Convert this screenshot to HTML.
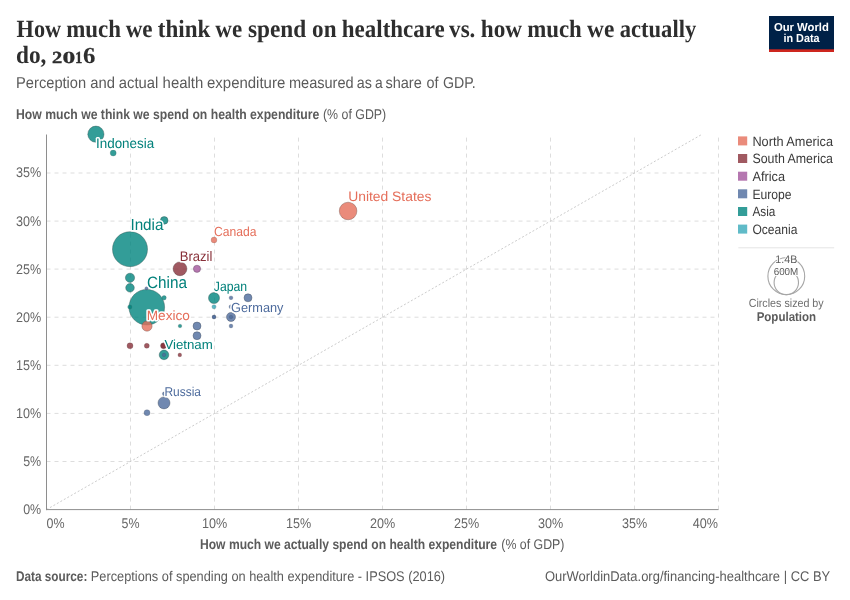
<!DOCTYPE html>
<html lang="en"><head><meta charset="utf-8"><title>How much we think we spend on healthcare vs. how much we actually do, 2016</title>
<style>html,body{margin:0;padding:0;background:#fff;}body{width:850px;height:600px;overflow:hidden;}svg{display:block;font-family:"Liberation Sans", "DejaVu Sans", sans-serif;text-rendering:geometricPrecision;}</style>
</head><body>
<svg width="850" height="600" viewBox="0 0 850 600">
<rect x="0" y="0" width="850" height="600" fill="#ffffff"/>
<g font-family='"Liberation Serif", "DejaVu Serif", serif' font-weight="bold" font-size="24.8" fill="#2e2e2e">
<text y="36.8"><tspan x="16.6" textLength="44.5" lengthAdjust="spacingAndGlyphs">How</tspan> <tspan x="66.2" textLength="54.8" lengthAdjust="spacingAndGlyphs">much</tspan> <tspan x="125.7" textLength="26.9" lengthAdjust="spacingAndGlyphs">we</tspan> <tspan x="157.8" textLength="52.6" lengthAdjust="spacingAndGlyphs">think</tspan> <tspan x="215.3" textLength="26.8" lengthAdjust="spacingAndGlyphs">we</tspan> <tspan x="248.0" textLength="58.3" lengthAdjust="spacingAndGlyphs">spend</tspan> <tspan x="312.1" textLength="24.4" lengthAdjust="spacingAndGlyphs">on</tspan> <tspan x="341.8" textLength="103.0" lengthAdjust="spacingAndGlyphs">healthcare</tspan> <tspan x="449.1" textLength="26.3" lengthAdjust="spacingAndGlyphs">vs.</tspan> <tspan x="480.8" textLength="41.3" lengthAdjust="spacingAndGlyphs">how</tspan> <tspan x="527.2" textLength="54.6" lengthAdjust="spacingAndGlyphs">much</tspan> <tspan x="587.1" textLength="27.2" lengthAdjust="spacingAndGlyphs">we</tspan> <tspan x="619.8" textLength="76.4" lengthAdjust="spacingAndGlyphs">actually</tspan></text>
<text y="62.5"><tspan x="16.0" textLength="30.4" lengthAdjust="spacingAndGlyphs">do,</tspan> <tspan x="51.9" font-size="16.9" textLength="10.2" lengthAdjust="spacingAndGlyphs" stroke="#2e2e2e" stroke-width="0.4">2</tspan><tspan x="62.4" font-size="16.9" textLength="12.8" lengthAdjust="spacingAndGlyphs" stroke="#2e2e2e" stroke-width="0.25">0</tspan><tspan x="75.3" font-size="16.9" textLength="7.0" lengthAdjust="spacingAndGlyphs" stroke="#2e2e2e" stroke-width="0.4">1</tspan><tspan x="82.9" font-size="22.8" textLength="12.4" lengthAdjust="spacingAndGlyphs" stroke="#2e2e2e" stroke-width="0.1">6</tspan></text>
</g>
<text y="87.5" font-size="15.76" fill="#5b5b5b"><tspan x="16.1" textLength="70.1" lengthAdjust="spacingAndGlyphs">Perception</tspan> <tspan x="90.3" textLength="24.7" lengthAdjust="spacingAndGlyphs">and</tspan> <tspan x="118.8" textLength="39.4" lengthAdjust="spacingAndGlyphs">actual</tspan> <tspan x="162.6" textLength="40.7" lengthAdjust="spacingAndGlyphs">health</tspan> <tspan x="207.0" textLength="78.2" lengthAdjust="spacingAndGlyphs">expenditure</tspan> <tspan x="288.9" textLength="64.8" lengthAdjust="spacingAndGlyphs">measured</tspan> <tspan x="356.7" textLength="15.1" lengthAdjust="spacingAndGlyphs">as</tspan> <tspan x="374.9" textLength="7.7" lengthAdjust="spacingAndGlyphs">a</tspan> <tspan x="385.4" textLength="36.4" lengthAdjust="spacingAndGlyphs">share</tspan> <tspan x="426.6" textLength="12.0" lengthAdjust="spacingAndGlyphs">of</tspan> <tspan x="443.0" textLength="32.8" lengthAdjust="spacingAndGlyphs">GDP.</tspan></text>
<g>
<rect x="769" y="16" width="65" height="36" fill="#002147"/>
<rect x="769" y="49.3" width="65" height="2.7" fill="#ce261e"/>
<text x="801.4" y="30.6" font-size="11.54" fill="#ffffff" font-weight="bold" text-anchor="middle" textLength="55.0" lengthAdjust="spacingAndGlyphs">Our World</text>
<text x="801.5" y="42.4" font-size="11.54" fill="#ffffff" font-weight="bold" text-anchor="middle" textLength="36.2" lengthAdjust="spacingAndGlyphs">in Data</text>
</g>
<text x="16.0" y="118.8" font-size="14.04" fill="#5b5b5b" font-weight="bold" textLength="303.3" lengthAdjust="spacingAndGlyphs">How much we think we spend on health expenditure</text>
<text x="323.0" y="118.8" font-size="14.04" fill="#5b5b5b" textLength="63.2" lengthAdjust="spacingAndGlyphs">(% of GDP)</text>
<g stroke="#dddddd" stroke-width="1" stroke-dasharray="4,4" fill="none">
<line x1="46.5" y1="461.5" x2="718.5" y2="461.5"/>
<line x1="46.5" y1="413.4" x2="718.5" y2="413.4"/>
<line x1="46.5" y1="365.3" x2="718.5" y2="365.3"/>
<line x1="46.5" y1="317.2" x2="718.5" y2="317.2"/>
<line x1="46.5" y1="269.1" x2="718.5" y2="269.1"/>
<line x1="46.5" y1="221.1" x2="718.5" y2="221.1"/>
<line x1="46.5" y1="173.0" x2="718.5" y2="173.0"/>
<line x1="130.5" y1="509.6" x2="130.5" y2="134.5"/>
<line x1="214.5" y1="509.6" x2="214.5" y2="134.5"/>
<line x1="298.5" y1="509.6" x2="298.5" y2="134.5"/>
<line x1="382.5" y1="509.6" x2="382.5" y2="134.5"/>
<line x1="466.5" y1="509.6" x2="466.5" y2="134.5"/>
<line x1="550.5" y1="509.6" x2="550.5" y2="134.5"/>
<line x1="634.5" y1="509.6" x2="634.5" y2="134.5"/>
<line x1="718.5" y1="509.6" x2="718.5" y2="134.5"/>
</g>
<line x1="46.5" y1="509.6" x2="701.7" y2="134.5" stroke="#cccccc" stroke-width="1" stroke-dasharray="2,2"/>
<line x1="46.5" y1="134.5" x2="46.5" y2="510.1" stroke="#8e8e8e" stroke-width="1"/>
<line x1="46.0" y1="509.6" x2="718.5" y2="509.6" stroke="#8e8e8e" stroke-width="1"/>
<g font-size="14.04" fill="#666666">
<text x="41.2" y="514.0" text-anchor="end" textLength="18.0" lengthAdjust="spacingAndGlyphs">0%</text>
<text x="41.2" y="465.9" text-anchor="end" textLength="18.0" lengthAdjust="spacingAndGlyphs">5%</text>
<text x="41.2" y="417.8" text-anchor="end" textLength="25.2" lengthAdjust="spacingAndGlyphs">10%</text>
<text x="41.2" y="369.7" text-anchor="end" textLength="25.2" lengthAdjust="spacingAndGlyphs">15%</text>
<text x="41.2" y="321.6" text-anchor="end" textLength="25.2" lengthAdjust="spacingAndGlyphs">20%</text>
<text x="41.2" y="273.5" text-anchor="end" textLength="25.2" lengthAdjust="spacingAndGlyphs">25%</text>
<text x="41.2" y="225.5" text-anchor="end" textLength="25.2" lengthAdjust="spacingAndGlyphs">30%</text>
<text x="41.2" y="177.4" text-anchor="end" textLength="25.2" lengthAdjust="spacingAndGlyphs">35%</text>
<text x="46.5" y="527.9" textLength="18.0" lengthAdjust="spacingAndGlyphs">0%</text>
<text x="130.5" y="527.9" text-anchor="middle" textLength="18.0" lengthAdjust="spacingAndGlyphs">5%</text>
<text x="214.5" y="527.9" text-anchor="middle" textLength="25.2" lengthAdjust="spacingAndGlyphs">10%</text>
<text x="298.5" y="527.9" text-anchor="middle" textLength="25.2" lengthAdjust="spacingAndGlyphs">15%</text>
<text x="382.5" y="527.9" text-anchor="middle" textLength="25.2" lengthAdjust="spacingAndGlyphs">20%</text>
<text x="466.5" y="527.9" text-anchor="middle" textLength="25.2" lengthAdjust="spacingAndGlyphs">25%</text>
<text x="550.5" y="527.9" text-anchor="middle" textLength="25.2" lengthAdjust="spacingAndGlyphs">30%</text>
<text x="634.5" y="527.9" text-anchor="middle" textLength="25.2" lengthAdjust="spacingAndGlyphs">35%</text>
<text x="718.0" y="527.9" text-anchor="end" textLength="25.2" lengthAdjust="spacingAndGlyphs">40%</text>
</g>
<text x="200.0" y="548.8" font-size="14.04" fill="#5b5b5b" font-weight="bold" textLength="297" lengthAdjust="spacingAndGlyphs">How much we actually spend on health expenditure</text>
<text x="501.3" y="548.8" font-size="14.04" fill="#5b5b5b" textLength="63.1" lengthAdjust="spacingAndGlyphs">(% of GDP)</text>
<g stroke-width="0.5" fill-opacity="0.8" stroke-opacity="0.8">
<circle cx="146.8" cy="307.2" r="17.80" fill="#00847E" stroke="#2c504e"/>
<circle cx="130.0" cy="249.2" r="17.50" fill="#00847E" stroke="#2c504e"/>
<circle cx="348.1" cy="211.0" r="8.80" fill="#E56E5A" stroke="#6f4a44"/>
<circle cx="95.9" cy="134.2" r="8.10" fill="#00847E" stroke="#2c504e"/>
<circle cx="180.0" cy="268.8" r="6.90" fill="#883039" stroke="#4c3033"/>
<circle cx="164.0" cy="402.9" r="6.00" fill="#4C6A9C" stroke="#414a5b"/>
<circle cx="214.0" cy="298.0" r="5.50" fill="#00847E" stroke="#2c504e"/>
<circle cx="147.0" cy="326.1" r="5.10" fill="#E56E5A" stroke="#6f4a44"/>
<circle cx="130.0" cy="277.8" r="4.60" fill="#00847E" stroke="#2c504e"/>
<circle cx="164.0" cy="354.9" r="4.80" fill="#00847E" stroke="#2c504e"/>
<circle cx="130.0" cy="287.8" r="4.30" fill="#00847E" stroke="#2c504e"/>
<circle cx="231.0" cy="317.0" r="4.50" fill="#4C6A9C" stroke="#414a5b"/>
<circle cx="248.0" cy="297.8" r="4.00" fill="#4C6A9C" stroke="#414a5b"/>
<circle cx="197.0" cy="326.0" r="4.00" fill="#4C6A9C" stroke="#414a5b"/>
<circle cx="197.0" cy="335.7" r="4.00" fill="#4C6A9C" stroke="#414a5b"/>
<circle cx="164.2" cy="220.4" r="3.80" fill="#00847E" stroke="#2c504e"/>
<circle cx="197.0" cy="268.8" r="3.60" fill="#A2559C" stroke="#5c4059"/>
<circle cx="214.0" cy="240.0" r="2.90" fill="#E56E5A" stroke="#6f4a44" stroke-opacity="0.45"/>
<circle cx="130.0" cy="345.8" r="3.00" fill="#883039" stroke="#4c3033" stroke-opacity="0.45"/>
<circle cx="163.5" cy="345.8" r="3.00" fill="#883039" stroke="#4c3033" stroke-opacity="0.45"/>
<circle cx="163.5" cy="345.8" r="2.40" fill="#883039" stroke="#4c3033" stroke-opacity="0.45"/>
<circle cx="147.0" cy="412.7" r="3.00" fill="#4C6A9C" stroke="#414a5b" stroke-opacity="0.45"/>
<circle cx="113.2" cy="153.0" r="3.00" fill="#00847E" stroke="#2c504e" stroke-opacity="0.45"/>
<circle cx="146.8" cy="345.8" r="2.50" fill="#883039" stroke="#4c3033" stroke-opacity="0.45"/>
<circle cx="164.1" cy="297.8" r="2.20" fill="#00847E" stroke="#2c504e" stroke-opacity="0.45"/>
<circle cx="129.8" cy="307.0" r="2.10" fill="#00847E" stroke="#2c504e" stroke-opacity="0.45"/>
<circle cx="214.0" cy="306.8" r="2.10" fill="#38AABA" stroke="#3a5e64" stroke-opacity="0.45"/>
<circle cx="214.0" cy="317.0" r="2.00" fill="#4C6A9C" stroke="#414a5b" stroke-opacity="0.45"/>
<circle cx="214.0" cy="317.0" r="1.70" fill="#4C6A9C" stroke="#414a5b" stroke-opacity="0.45"/>
<circle cx="231.0" cy="297.8" r="1.90" fill="#4C6A9C" stroke="#414a5b" stroke-opacity="0.45"/>
<circle cx="231.0" cy="326.0" r="1.90" fill="#4C6A9C" stroke="#414a5b" stroke-opacity="0.45"/>
<circle cx="231.0" cy="306.8" r="2.00" fill="#4C6A9C" stroke="#414a5b" stroke-opacity="0.45"/>
<circle cx="231.0" cy="317.0" r="1.80" fill="#4C6A9C" stroke="#414a5b" stroke-opacity="0.45"/>
<circle cx="146.5" cy="288.3" r="1.60" fill="#4C6A9C" stroke="#414a5b" stroke-opacity="0.45"/>
<circle cx="164.0" cy="354.9" r="1.80" fill="#4C6A9C" stroke="#414a5b" stroke-opacity="0.45"/>
<circle cx="180.0" cy="326.0" r="1.80" fill="#00847E" stroke="#2c504e" stroke-opacity="0.45"/>
<circle cx="179.8" cy="354.9" r="1.85" fill="#883039" stroke="#4c3033" stroke-opacity="0.45"/>
<circle cx="164.4" cy="393.8" r="2.00" fill="#4C6A9C" stroke="#414a5b" stroke-opacity="0.45"/>
</g>
<g stroke="#ffffff" stroke-width="3" stroke-linejoin="round" paint-order="stroke fill">
<text x="96.0" y="148.0" font-size="13.83" fill="#02817b" textLength="58.2" lengthAdjust="spacingAndGlyphs">Indonesia</text>
<text x="130.4" y="230.0" font-size="16.02" fill="#02817b" textLength="33.1" lengthAdjust="spacingAndGlyphs">India</text>
<text x="147.0" y="288.0" font-size="16.54" fill="#02817b" textLength="39.9" lengthAdjust="spacingAndGlyphs">China</text>
<text x="348.2" y="201.0" font-size="13.73" fill="#e56e5a" textLength="83.2" lengthAdjust="spacingAndGlyphs">United States</text>
<text x="214.1" y="236.0" font-size="13.10" fill="#e56e5a" textLength="42.5" lengthAdjust="spacingAndGlyphs">Canada</text>
<text x="179.8" y="261.0" font-size="13.94" fill="#883039" textLength="32.6" lengthAdjust="spacingAndGlyphs">Brazil</text>
<text x="213.8" y="291.0" font-size="13.62" fill="#02817b" textLength="33.4" lengthAdjust="spacingAndGlyphs">Japan</text>
<text x="231.1" y="312.0" font-size="13.10" fill="#4c6a9c" textLength="52.4" lengthAdjust="spacingAndGlyphs">Germany</text>
<text x="146.7" y="320.0" font-size="13.31" fill="#e56e5a" textLength="43.2" lengthAdjust="spacingAndGlyphs">Mexico</text>
<text x="164.4" y="349.0" font-size="13.10" fill="#02817b" textLength="48.4" lengthAdjust="spacingAndGlyphs">Vietnam</text>
<text x="164.5" y="396.0" font-size="12.79" fill="#4c6a9c" textLength="36.5" lengthAdjust="spacingAndGlyphs">Russia</text>
</g>
<g font-size="13.52" fill="#3a3a3a">
<rect x="738" y="136.4" width="9.2" height="9" fill="#E56E5A" fill-opacity="0.8"/>
<text x="752.4" y="146" textLength="80.6" lengthAdjust="spacingAndGlyphs">North America</text>
<rect x="738" y="154.0" width="9.2" height="9" fill="#883039" fill-opacity="0.8"/>
<text x="752.4" y="163" textLength="80.6" lengthAdjust="spacingAndGlyphs">South America</text>
<rect x="738" y="171.7" width="9.2" height="9" fill="#A2559C" fill-opacity="0.8"/>
<text x="752.4" y="181" textLength="32.6" lengthAdjust="spacingAndGlyphs">Africa</text>
<rect x="738" y="189.3" width="9.2" height="9" fill="#4C6A9C" fill-opacity="0.8"/>
<text x="752.4" y="199" textLength="39.2" lengthAdjust="spacingAndGlyphs">Europe</text>
<rect x="738" y="207.0" width="9.2" height="9" fill="#00847E" fill-opacity="0.8"/>
<text x="752.4" y="216" textLength="23.0" lengthAdjust="spacingAndGlyphs">Asia</text>
<rect x="738" y="224.6" width="9.2" height="9" fill="#38AABA" fill-opacity="0.8"/>
<text x="752.4" y="234" textLength="45.0" lengthAdjust="spacingAndGlyphs">Oceania</text>
</g>
<line x1="738.3" y1="247.8" x2="834.2" y2="247.8" stroke="#e4e4e4" stroke-width="1"/>
<g fill="none" stroke="#a6a6a6" stroke-width="1.1">
<circle cx="786.3" cy="276.2" r="18.4"/>
<circle cx="786.3" cy="282.4" r="12.2"/>
</g>
<g stroke="#ffffff" stroke-width="1.8" stroke-linejoin="round" paint-order="stroke fill" fill="#5b5b5b" text-anchor="middle">
<text x="786.3" y="263.4" font-size="11.02" textLength="21.9" lengthAdjust="spacingAndGlyphs">1.4B</text>
<text x="786.0" y="274.7" font-size="10.19" textLength="24.6" lengthAdjust="spacingAndGlyphs">600M</text>
</g>
<text x="786.2" y="306.7" font-size="11.86" fill="#6e6e6e" text-anchor="middle" textLength="75.0" lengthAdjust="spacingAndGlyphs">Circles sized by</text>
<text x="786.4" y="320.8" font-size="12.79" fill="#5b5b5b" font-weight="bold" text-anchor="middle" textLength="59.5" lengthAdjust="spacingAndGlyphs">Population</text>
<text x="16.0" y="580.6" font-size="14.04" fill="#5b5b5b" font-weight="bold" textLength="71.3" lengthAdjust="spacingAndGlyphs">Data source:</text>
<text x="90.8" y="580.6" font-size="14.04" fill="#5b5b5b" textLength="354.3" lengthAdjust="spacingAndGlyphs">Perceptions of spending on health expenditure - IPSOS (2016)</text>
<text x="545.0" y="580.6" font-size="14.04" fill="#5b5b5b" textLength="285.2" lengthAdjust="spacingAndGlyphs">OurWorldinData.org/financing-healthcare | CC BY</text>
</svg>
</body></html>
